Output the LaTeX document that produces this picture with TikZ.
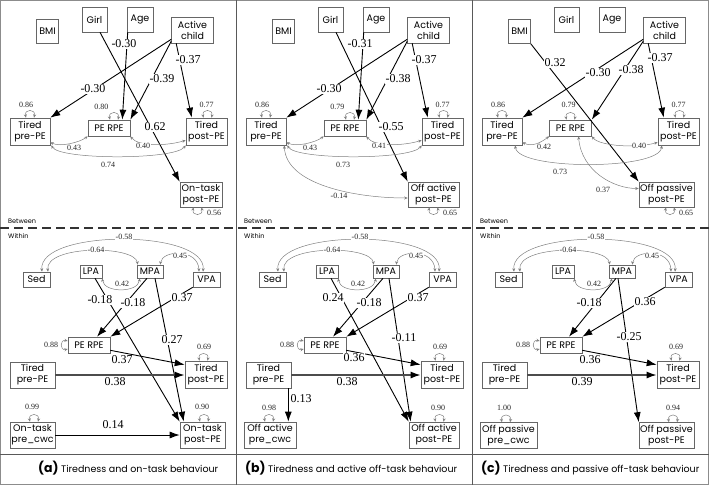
\documentclass[tikz,border=0pt]{standalone}
\usepackage{fontspec}
\usetikzlibrary{arrows.meta,calc,positioning}
\newfontfamily\gothic{Poppins}
\newfontfamily\coeffont{Liberation Serif}

\begin{document}
\begin{tikzpicture}[x=1pt,y=-1pt,
  var/.style={draw=black!60,line width=0.6pt,fill=white,align=center,inner sep=0pt,
    font=\gothic\fontsize{9.5}{11}\selectfont},
  reg/.style={line width=0.9pt,-{Latex[length=10pt,width=7pt]}},
  thickline/.style={line width=1.5pt,draw=black!70,-{Latex[length=10pt,width=7pt,color=black]}},
  cov/.style={draw=black!50,line width=0.5pt,{Stealth[length=3.5pt,width=3pt]}-{Stealth[length=3.5pt,width=3pt]}},
  coef/.style={fill=white,inner sep=0.6pt,font=\coeffont\fontsize{12}{12}\selectfont},
  est/.style={fill=white,inner sep=0.5pt,text=black!85,font=\coeffont\fontsize{8}{8}\selectfont},
  tag/.style={anchor=west,inner sep=0pt,font=\gothic\fontsize{6.5}{7}\selectfont},
  caption/.style={anchor=base west,inner sep=0pt,font=\gothic\fontsize{9.5}{11}\selectfont},
]
\useasboundingbox (0,0) rectangle (709,485);
\draw[black!45,line width=1pt] (0.5,0.5) rectangle (708.5,484.5);

% panel frames
\draw[black!65,line width=0.8pt] (236,0) -- (236,485);
\draw[black!65,line width=0.8pt] (472,0) -- (472,485);
\draw[black!65,line width=0.8pt] (0,454) -- (709,454);
\draw[black!80,line width=1.2pt,dash pattern=on 9pt off 5pt] (0,228) -- (709,228);

% variables shared by the three models
\foreach \p/\dx/\rx in {a/0/109,b/236/109,c/472/98.5}{
  \begin{scope}[xshift=\dx pt]
    \node[tag] (\p-btw) at (8,221) {Between};
    \node[tag] (\p-wtn) at (8,236) {Within};
    % between level
    \node[var,minimum width=22pt,minimum height=24pt] (\p-BMI) at (47.5,31.5) {BMI};
    \node[var,minimum width=25pt,minimum height=25pt] (\p-Girl) at (94.5,19.5) {Girl};
    \node[var,minimum width=26pt,minimum height=25pt] (\p-Age) at (140,19.5) {Age};
    \node[var,minimum width=42pt,minimum height=26pt] (\p-Act) at (192.5,30) {Active\\child};
    \node[var,minimum width=40pt,minimum height=27pt] (\p-Tpre) at (30,131.5) {Tired\\pre-PE};
    \node[var,minimum width=42pt,minimum height=16pt] (\p-RPE) at (\rx,128) {PE RPE};
    \node[var,minimum width=41pt,minimum height=27pt] (\p-Tpost) at (206.5,131.5) {Tired\\post-PE};
    % within level
    \node[var,minimum width=27pt,minimum height=15pt] (\p-Sed) at (36.5,279.5) {Sed};
    \node[var,minimum width=22pt,minimum height=13pt] (\p-LPA) at (91,271.5) {LPA};
    \node[var,minimum width=26pt,minimum height=13pt] (\p-MPA) at (150,271.5) {MPA};
    \node[var,minimum width=27pt,minimum height=15pt] (\p-VPA) at (206.5,279.5) {VPA};
    \node[var,minimum width=42pt,minimum height=16pt] (\p-RPEw) at (89,345) {PE RPE};
    \node[var,minimum width=45pt,minimum height=26pt] (\p-Tprew) at (32.5,375) {Tired\\pre-PE};
    \node[var,minimum width=42pt,minimum height=27pt] (\p-Tpostw) at (206,374.5) {Tired\\post-PE};
    % residual variances
    \draw[cov] ([xshift=-4pt]\p-Tpre.north) .. controls +(-2,-9) and +(2,-9) .. ([xshift=4pt]\p-Tpre.north);
    \node[est] (\p-v1) at (26,105) {0.86};
    \draw[cov] ([xshift=-3pt]\p-Tpost.north) .. controls +(-2,-9) and +(2,-9) .. ([xshift=5pt]\p-Tpost.north);
    \node[est] (\p-v2) at (206.5,105) {0.77};
    \draw[cov] ([yshift=4pt]\p-RPEw.west) .. controls +(-8,-2) and +(-8,2) .. ([yshift=-4pt]\p-RPEw.west);
    \node[est] (\p-v3) at (51,345) {0.88};
    \draw[cov] ([xshift=-6.5pt]\p-Tpostw.north) .. controls +(-2,-9) and +(2,-9) .. ([xshift=1.5pt]\p-Tpostw.north);
    \node[est] (\p-v4) at (204,347) {0.69};
    % covariances among PA levels
    \draw[cov] ([xshift=11.5pt]\p-Sed.north) .. controls (45,245) and (135,245) .. ([xshift=1pt]\p-MPA.north west);
    \node[est] (\p-r1) at (96,249.5) {-0.64};
    \draw[cov] ([xshift=5.5pt]\p-Sed.north) .. controls (38,229) and (207,229) .. ([xshift=-3.5pt]\p-VPA.north);
    \node[est] (\p-r2) at (124,236.5) {-0.58};
    \draw[cov] ([xshift=-3pt]\p-MPA.north east) .. controls (162,250) and (198,248) .. ([xshift=-7.5pt]\p-VPA.north);
    \node[est] (\p-r3) at (180,255.5) {0.45};
    \draw[cov] (\p-LPA.south east) .. controls (104,293) and (138,293) .. ([xshift=3pt]\p-MPA.south west);
    \node[est] (\p-r4) at (122,284) {0.42};
  \end{scope}
}

% (a) on-task behaviour
\node[var,minimum width=42pt,minimum height=25pt] (a-Out) at (201,194.5) {On-task\\post-PE};
\node[var,minimum width=45pt,minimum height=26pt] (a-Prew) at (32.5,435) {On-task\\pre\_cwc};
\node[var,minimum width=45pt,minimum height=26pt] (a-Postw) at (202.5,435) {On-task\\post-PE};

\draw[reg] ([yshift=4pt]a-Act.south west) -- (a-Tpre.north east);
\draw[reg] ([yshift=2pt]a-Act.south west) -- (a-RPE.north east);
\draw[reg] ([xshift=5pt]a-Act.south west) -- ([xshift=6pt]a-Tpost.north west);
\draw[reg] ([xshift=1pt]a-Age.south west) -- ([xshift=-8pt]a-RPE.north east);
\draw[reg] ([xshift=5.5pt]a-Girl.south) -- (a-Out.north west);
\draw[cov] ([yshift=3pt]a-Tpre.south east) .. controls +(10,5) and +(-8,6) .. (a-RPE.south west);
\draw[cov] (a-RPE.south east) .. controls +(8,10) and +(-20,6) .. ([yshift=5pt]a-Tpost.south west);
\draw[cov] ([xshift=1pt]a-Tpre.south east) .. controls (60,160) and (175,160) .. (a-Tpost.south west);
\draw[cov] ([xshift=1pt]a-RPE.north) .. controls +(-2,-9) and +(2,-9) .. ([xshift=9pt]a-RPE.north);
\draw[cov] ([xshift=-7.5pt]a-Out.south) .. controls +(-2,9) and +(2,9) .. ([xshift=0.5pt]a-Out.south);
\node[coef] (a-k1) at (93,89) {-0.30};
\node[coef] (a-k2) at (162,79) {-0.39};
\node[coef] (a-k3) at (188,60) {-0.37};
\node[coef] (a-k4) at (124,44) {-0.30};
\node[coef] (a-k5) at (155,127) {0.62};
\node[est] (a-e1) at (74,148) {0.43};
\node[est] (a-e2) at (143,146) {0.40};
\node[est] (a-e3) at (108,165) {0.74};
\node[est,anchor=east] (a-e4) at (109,107) {0.80};
\node[est] (a-e5) at (214,213) {0.56};

\draw[reg] ([xshift=4pt]a-LPA.south) -- (a-Postw.north west);
\draw[reg] ([xshift=-3pt]a-MPA.south) -- ([xshift=8pt]a-RPEw.north);
\draw[reg] ([xshift=5pt]a-MPA.south) -- ([xshift=4pt]a-Postw.north west);
\draw[reg] (a-VPA.south west) -- (a-RPEw.north east);
\draw[reg] ([yshift=3pt]a-RPEw.south east) -- ([yshift=-4pt]a-Tpostw.north west);
\draw[reg,thickline] (a-Tprew.east) -- (a-Tprew.east -| a-Tpostw.west);
\draw[reg] (a-Prew.east) -- (a-Prew.east -| a-Postw.west);
\draw[cov] ([xshift=-2.5pt]a-Prew.north) .. controls +(-2,-9) and +(2,-9) .. ([xshift=5.5pt]a-Prew.north);
\draw[cov] ([xshift=-2.5pt]a-Postw.north) .. controls +(-2,-9) and +(2,-9) .. ([xshift=5.5pt]a-Postw.north);
\node[coef] (a-k6) at (100,300) {-0.18};
\node[coef] (a-k7) at (133,303) {-0.18};
\node[coef] (a-k8) at (172,340) {0.27};
\node[coef] (a-k9) at (182,298) {0.37};
\node[coef] (a-k10) at (122,360) {0.37};
\node[coef] (a-k11) at (115,382) {0.38};
\node[coef] (a-k12) at (113,425) {0.14};
\node[est] (a-e6) at (32,407) {0.99};
\node[est] (a-e7) at (202,407) {0.90};

% (b) active off-task behaviour
\begin{scope}[xshift=236pt]
\node[var,minimum width=51pt,minimum height=25pt] (b-Out) at (197.5,194.5) {Off active\\post-PE};
\node[var,minimum width=52pt,minimum height=26pt] (b-Prew) at (34,435) {Off active\\pre\_cwc};
\node[var,minimum width=50pt,minimum height=26pt] (b-Postw) at (198,435) {Off active\\post-PE};

\draw[reg] ([yshift=4pt]b-Act.south west) -- (b-Tpre.north east);
\draw[reg] ([yshift=2pt]b-Act.south west) -- (b-RPE.north east);
\draw[reg] ([xshift=5pt]b-Act.south west) -- ([xshift=6pt]b-Tpost.north west);
\draw[reg] ([xshift=1pt]b-Age.south west) -- ([xshift=-8pt]b-RPE.north east);
\draw[reg] ([xshift=5.5pt]b-Girl.south) -- (b-Out.north west);
\draw[cov] ([yshift=3pt]b-Tpre.south east) .. controls +(10,5) and +(-8,6) .. (b-RPE.south west);
\draw[cov] (b-RPE.south east) .. controls +(8,10) and +(-20,6) .. ([yshift=5pt]b-Tpost.south west);
\draw[cov] ([xshift=1pt]b-Tpre.south east) .. controls (60,160) and (175,160) .. (b-Tpost.south west);
\draw[cov] ([xshift=-2pt]b-Tpre.south east) .. controls (50,185) and (120,198) .. ([yshift=-3.5pt]b-Out.west);
\draw[cov] ([xshift=1pt]b-RPE.north) .. controls +(-2,-9) and +(2,-9) .. ([xshift=9pt]b-RPE.north);
\draw[cov] ([xshift=-4pt]b-Out.south) .. controls +(-2,9) and +(2,9) .. ([xshift=4pt]b-Out.south);
\node[coef] (b-k1) at (93,89) {-0.30};
\node[coef] (b-k2) at (162,79) {-0.38};
\node[coef] (b-k3) at (188,60) {-0.37};
\node[coef] (b-k4) at (124,44) {-0.31};
\node[coef] (b-k5) at (155,127) {-0.55};
\node[est] (b-e1) at (74,148) {0.43};
\node[est] (b-e2) at (143,146) {0.41};
\node[est] (b-e3) at (107,165) {0.73};
\node[est] (b-e4) at (103,196) {-0.14};
\node[est,anchor=east] (b-e5) at (109,107) {0.79};
\node[est] (b-e6) at (214,213) {0.65};

\draw[reg] ([xshift=4pt]b-LPA.south) -- (b-Postw.north west);
\draw[reg] ([xshift=-3pt]b-MPA.south) -- ([xshift=8pt]b-RPEw.north);
\draw[reg] ([xshift=3pt]b-MPA.south) -- ([xshift=2pt]b-Postw.north west);
\draw[reg] (b-VPA.south west) -- (b-RPEw.north east);
\draw[reg] ([yshift=3pt]b-RPEw.south east) -- ([yshift=-4pt]b-Tpostw.north west);
\draw[reg,thickline] (b-Tprew.east) -- (b-Tprew.east -| b-Tpostw.west);
\draw[reg] ([xshift=-3pt]b-Tprew.south east) -- ([xshift=-3pt]b-Tprew.south east |- b-Prew.north);
\draw[cov] ([xshift=-5pt]b-Prew.north) .. controls +(-2,-9) and +(2,-9) .. ([xshift=3pt]b-Prew.north);
\draw[cov] ([xshift=1.5pt]b-Postw.north) .. controls +(-2,-9) and +(2,-9) .. ([xshift=9.5pt]b-Postw.north);
\node[coef] (b-k6) at (97,298) {0.24};
\node[coef] (b-k7) at (133,303) {-0.18};
\node[coef] (b-k8) at (168,338) {-0.11};
\node[coef] (b-k9) at (182,298) {0.37};
\node[coef] (b-k10) at (118,358) {0.36};
\node[coef] (b-k11) at (111,382) {0.38};
\node[coef] (b-k12) at (65,399) {0.13};
\node[est] (b-e7) at (33,408) {0.98};
\node[est] (b-e8) at (202,408) {0.90};
\end{scope}

% (c) passive off-task behaviour
\begin{scope}[xshift=472pt]
\node[var,minimum width=55pt,minimum height=25pt] (c-Out) at (194.5,194.5) {Off passive\\post-PE};
\node[var,minimum width=57pt,minimum height=26pt] (c-Prew) at (36.5,435.5) {Off passive\\pre\_cwc};
\node[var,minimum width=55pt,minimum height=26pt] (c-Postw) at (194.5,435.5) {Off passive\\post-PE};

\draw[reg] (c-BMI.south east) -- (c-Out.north west);
\draw[reg] ([yshift=4pt]c-Act.south west) -- (c-Tpre.north east);
\draw[reg] ([yshift=2pt]c-Act.south west) -- (c-RPE.north east);
\draw[reg] ([xshift=5pt]c-Act.south west) -- ([xshift=6pt]c-Tpost.north west);
\draw[cov] ([yshift=3pt]c-Tpre.south east) .. controls +(10,5) and +(-8,6) .. (c-RPE.south west);
\draw[cov] (c-RPE.south east) .. controls +(8,10) and +(-20,6) .. ([yshift=3pt]c-Tpost.south west);
\draw[cov] ([xshift=-7pt]c-Tpre.south east) .. controls +(2,25) and +(-2,25) .. ([xshift=4pt]c-Tpost.south west);
\draw[cov] ([xshift=8pt]c-RPE.south) .. controls +(3,35) and +(-25,0) .. ([yshift=6pt]c-Out.west);
\draw[cov] ([xshift=-4pt]c-RPE.north) .. controls +(-2,-9) and +(2,-9) .. ([xshift=4pt]c-RPE.north);
\draw[cov] ([xshift=-0.5pt]c-Out.south) .. controls +(-2,9) and +(2,9) .. ([xshift=7.5pt]c-Out.south);
\node[coef] (c-k1) at (83,63) {0.32};
\node[coef] (c-k2) at (126,73) {-0.30};
\node[coef] (c-k3) at (159,70) {-0.38};
\node[coef] (c-k4) at (188,58) {-0.37};
\node[est] (c-e1) at (72,147) {0.42};
\node[est] (c-e2) at (167,146) {0.40};
\node[est] (c-e3) at (88,172) {0.73};
\node[est] (c-e4) at (131,190) {0.37};
\node[est] (c-e5) at (96.5,105) {0.79};
\node[est] (c-e6) at (214,213) {0.65};

\draw[reg] ([xshift=-6pt]c-MPA.south) -- ([xshift=8pt]c-RPEw.north);
\draw[reg] ([xshift=-4pt]c-MPA.south) -- (c-Postw.north west);
\draw[reg] (c-VPA.south west) -- (c-RPEw.north east);
\draw[reg] ([yshift=3pt]c-RPEw.south east) -- ([yshift=-4pt]c-Tpostw.north west);
\draw[reg,thickline] (c-Tprew.east) -- (c-Tprew.east -| c-Tpostw.west);
\draw[cov] ([xshift=-6.5pt]c-Prew.north) .. controls +(-2,-9) and +(2,-9) .. ([xshift=1.5pt]c-Prew.north);
\draw[cov] ([xshift=2.5pt]c-Postw.north) .. controls +(-2,-9) and +(2,-9) .. ([xshift=10.5pt]c-Postw.north);
\node[coef] (c-k6) at (117,303) {-0.18};
\node[coef] (c-k7) at (157,337) {-0.25};
\node[coef] (c-k8) at (173,302) {0.36};
\node[coef] (c-k9) at (118,360) {0.36};
\node[coef] (c-k10) at (110,382) {0.39};
\node[est] (c-e7) at (32,408) {1.00};
\node[est] (c-e8) at (201,408) {0.94};
\end{scope}

% captions
\node[caption] (cap-a) at (38,472)
  {{\fontsize{12.5}{13}\selectfont\bfseries (a)} Tiredness and on-task behaviour};
\node[caption] (cap-b) at (245,472)
  {{\fontsize{12.5}{13}\selectfont\bfseries (b)} Tiredness and active off-task behaviour};
\node[caption] (cap-c) at (481,472)
  {{\fontsize{12.5}{13}\selectfont\bfseries (c)} Tiredness and passive off-task behaviour};
\end{tikzpicture}
\end{document}
